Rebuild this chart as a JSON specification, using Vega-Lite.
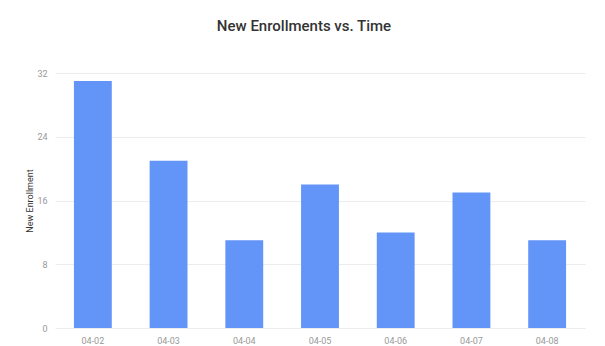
{
  "$schema": "https://vega.github.io/schema/vega-lite/v6.json",
  "autosize": "none",
  "width": 530,
  "height": 255,
  "padding": {"left": 55, "top": 73, "right": 20, "bottom": 18},
  "background": "#ffffff",
  "title": {
    "text": "New Enrollments vs. Time",
    "fontSize": 15,
    "font": "Roboto",
    "fontWeight": 500,
    "color": "#333333",
    "anchor": "middle",
    "dx": -16,
    "offset": 35
  },
  "data": {
    "values": [
      {"date": "04-02", "enrollment": 31},
      {"date": "04-03", "enrollment": 21},
      {"date": "04-04", "enrollment": 11},
      {"date": "04-05", "enrollment": 18},
      {"date": "04-06", "enrollment": 12},
      {"date": "04-07", "enrollment": 17},
      {"date": "04-08", "enrollment": 11}
    ]
  },
  "mark": {"type": "bar", "color": "#6395F9"},
  "encoding": {
    "x": {
      "field": "date",
      "type": "nominal",
      "sort": null,
      "scale": {"paddingInner": 0.5, "paddingOuter": 0.25},
      "axis": {
        "title": null,
        "labelAngle": 0,
        "labelFontSize": 9,
        "labelFont": "Roboto",
        "labelColor": "#999999",
        "labelPadding": 8,
        "ticks": false,
        "domain": false,
        "grid": false
      }
    },
    "y": {
      "field": "enrollment",
      "type": "quantitative",
      "scale": {"domain": [0, 32], "nice": false},
      "axis": {
        "title": "New Enrollment",
        "titleFontSize": 9,
        "titleFont": "Roboto",
        "titleFontWeight": "normal",
        "titleColor": "#333333",
        "titlePadding": 2,
        "values": [0, 8, 16, 24, 32],
        "labelFontSize": 9,
        "labelFont": "Roboto",
        "labelColor": "#999999",
        "labelPadding": 8,
        "ticks": false,
        "domain": false,
        "grid": true,
        "gridColor": "#ececec"
      }
    }
  },
  "config": {"view": {"stroke": null}}
}
